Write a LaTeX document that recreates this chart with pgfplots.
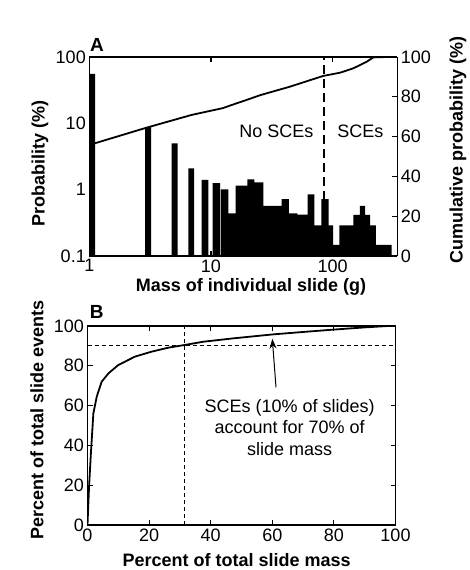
\documentclass[border=0pt]{standalone}
\usepackage{pgfplots}
\pgfplotsset{compat=1.18}
\usepackage{fontspec}
\setmainfont{Liberation Sans}
\usetikzlibrary{arrows.meta}
\begin{document}
\begin{tikzpicture}
\useasboundingbox (0pt,0pt) rectangle (469pt,570pt);
\pgfplotsset{
  mystyle/.style={
    scale only axis, width=308pt, height=199pt,
    tick align=inside, major tick length=5pt,
    axis line style={line width=1.1pt},
    every tick/.style={line width=1.1pt, black},
    tick label style={font=\fontsize{18}{21.6}\selectfont},
    label style={font=\bfseries\fontsize{18}{21.6}\selectfont},
    /pgf/number format/assume math mode=true,
  }
}
% ---------------- Panel A: histogram (log-log) ----------------
\begin{axis}[mystyle, at={(89.3pt,314pt)}, anchor=south west,
  xmode=log, ymode=log, xmin=1, xmax=339.6, ymin=0.1, ymax=100,
  log origin y=infty,
  xtick={1,10,100}, xticklabels={1,10,100},
  ytick={0.1,1,10,100}, yticklabels={0.1,1,10,100},
  xminorticks=false, yminorticks=false,
  axis y line*=left,
  xlabel={Mass of individual slide (g)}, ylabel={Probability (\%)},
  xlabel style={at={(axis description cs:0.525,0)}, anchor=center, yshift=-31pt},
  ylabel style={at={(axis description cs:-0.16,0.467)}, anchor=center},
]
\addplot[black, line width=1.2pt, dash pattern=on 9pt off 5pt] coordinates {(84.8,0.1) (84.8,100)};
\addplot[ybar interval, fill=black, draw=none] table {
x y
1 55.6
1.114 0.001
2.869 8.8
3.214 0.001
4.755 5.0
5.325 0.001
6.510 2.1
7.251 0.001
8.387 1.40
9.502 0.001
10.33 1.25
11.86 0.001
12.08 1.01
13.87 0.44
15.96 1.15
19.88 1.43
22.69 1.29
26.90 0.57
38.10 0.72
43.74 0.44
51.18 0.42
62.31 0.85
70.62 0.29
80.60 0.72
92.71 0.29
100.6 0.147
113.3 0.29
147.7 0.415
167.6 0.57
184.3 0.415
202.6 0.29
226.9 0.147
305.3 0.001
};
\node[font=\fontsize{18}{21.6}\selectfont] at (axis cs:34.5,7.5) {No SCEs};
\node[font=\fontsize{18}{21.6}\selectfont] at (axis cs:169,7.5) {SCEs};
\end{axis}
% ---------------- Panel A: cumulative (right axis) ----------------
\begin{axis}[mystyle, at={(89.3pt,314pt)}, anchor=south west,
  xmode=log, xmin=1, xmax=339.6, ymin=0, ymax=100,
  axis x line=none, axis y line*=right,
  ytick={0,20,40,60,80,100}, yticklabels={0,20,40,60,80,100},
  ylabel={Cumulative probability (\%)},
  ylabel style={at={(axis description cs:1.197,0.533)}, anchor=center},
]
\addplot[black, line width=1.8pt] coordinates {
(1,55.8) (2.96,64.5) (6.94,70.9) (12.5,74.3) (16,76.6) (20,78.6) (25.3,80.8)
(44.6,85.1) (83.7,90.5) (114.8,92.1) (147.6,94.3) (190.2,97.6) (215.7,99.8) (277.7,100)
};
\end{axis}
% ---------------- Panel B ----------------
\begin{axis}[mystyle, at={(87.5pt,45pt)}, anchor=south west,
  xmin=0, xmax=100, ymin=0, ymax=100,
  xtick={0,20,40,60,80,100}, xticklabels={0,20,40,60,80,100},
  ytick={0,20,40,60,80,100}, yticklabels={0,20,40,60,80,100},
  xlabel={Percent of total slide mass}, ylabel={Percent of total slide events},
  xlabel style={at={(axis description cs:0.484,0)}, anchor=center, yshift=-35pt},
  ylabel style={at={(axis description cs:-0.164,0.528)}, anchor=center},
]
\addplot[black, line width=1.1pt, dash pattern=on 4pt off 3pt] coordinates {(0,90) (100,90)};
\addplot[black, line width=1.1pt, dash pattern=on 4pt off 3pt] coordinates {(31.5,0) (31.5,100)};
\addplot[black, line width=1.8pt] coordinates {
(0,0) (0.2,8) (0.5,19) (1.1,36) (1.9,56) (3,64.5) (4.6,72) (6.8,76.2) (10,80.4)
(15.4,84.6) (20.8,87.1) (26.2,89.1) (31.7,90.5) (37.6,92.1) (47.4,93.8) (60.3,95.8)
(70,97) (80,98.2) (90,99.3) (97.5,100)
};
\draw[black, line width=1pt, -{Stealth[length=10pt,width=7pt]}] (axis cs:61.2,69.2) -- (axis cs:60,93.6);
\node[font=\fontsize{18}{21.6}\selectfont, align=center] at (axis cs:65.6,49) {SCEs (10\% of slides)\\account for 70\% of\\slide mass};
\end{axis}
\node[font=\bfseries\fontsize{19}{22}\selectfont] at (97pt,525pt) {A};
\node[font=\bfseries\fontsize{19}{22}\selectfont] at (96.7pt,258.3pt) {B};
\end{tikzpicture}
\end{document}
